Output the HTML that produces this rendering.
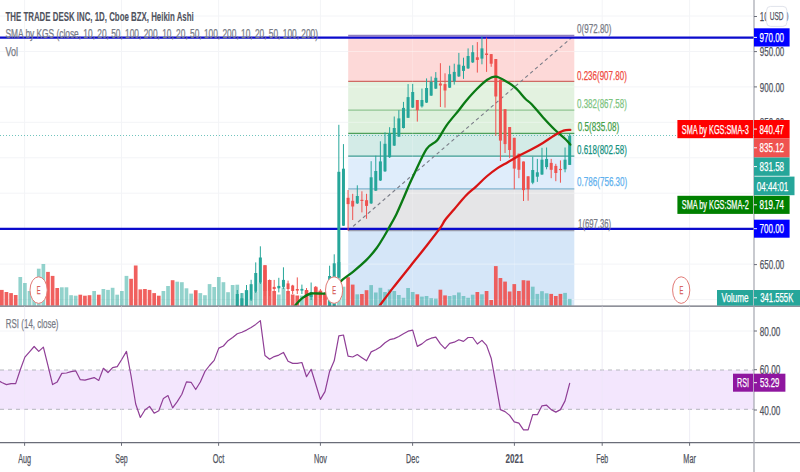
<!DOCTYPE html><html><head><meta charset="utf-8"><style>html,body{margin:0;padding:0;background:#fff;overflow:hidden}svg{display:block}text{font-family:"Liberation Sans",sans-serif}</style></head><body>
<svg width="800" height="472" viewBox="0 0 800 472">
<rect width="800" height="472" fill="#ffffff"/>
<line x1="24.6" y1="0" x2="24.6" y2="442" stroke="#f3f4f7" stroke-width="1"/>
<line x1="121.5" y1="0" x2="121.5" y2="442" stroke="#f3f4f7" stroke-width="1"/>
<line x1="218.6" y1="0" x2="218.6" y2="442" stroke="#f3f4f7" stroke-width="1"/>
<line x1="320.4" y1="0" x2="320.4" y2="442" stroke="#f3f4f7" stroke-width="1"/>
<line x1="412.6" y1="0" x2="412.6" y2="442" stroke="#f3f4f7" stroke-width="1"/>
<line x1="514.4" y1="0" x2="514.4" y2="442" stroke="#f3f4f7" stroke-width="1"/>
<line x1="602.2" y1="0" x2="602.2" y2="442" stroke="#f3f4f7" stroke-width="1"/>
<line x1="689.6" y1="0" x2="689.6" y2="442" stroke="#f3f4f7" stroke-width="1"/>
<line x1="0" y1="16.0" x2="754" y2="16.0" stroke="#f3f4f7" stroke-width="1"/>
<line x1="0" y1="51.5" x2="754" y2="51.5" stroke="#f3f4f7" stroke-width="1"/>
<line x1="0" y1="86.9" x2="754" y2="86.9" stroke="#f3f4f7" stroke-width="1"/>
<line x1="0" y1="122.3" x2="754" y2="122.3" stroke="#f3f4f7" stroke-width="1"/>
<line x1="0" y1="157.8" x2="754" y2="157.8" stroke="#f3f4f7" stroke-width="1"/>
<line x1="0" y1="193.2" x2="754" y2="193.2" stroke="#f3f4f7" stroke-width="1"/>
<line x1="0" y1="228.7" x2="754" y2="228.7" stroke="#f3f4f7" stroke-width="1"/>
<line x1="0" y1="264.1" x2="754" y2="264.1" stroke="#f3f4f7" stroke-width="1"/>
<line x1="0" y1="299.6" x2="754" y2="299.6" stroke="#f3f4f7" stroke-width="1"/>
<line x1="0" y1="331" x2="754" y2="331" stroke="#f3f4f7" stroke-width="1"/>
<rect x="348.2" y="35.3" width="226.09999999999997" height="46.10000000000001" fill="#fdd9d8"/>
<rect x="348.2" y="81.4" width="226.09999999999997" height="28.69999999999999" fill="#e3f2e0"/>
<rect x="348.2" y="110.1" width="226.09999999999997" height="23.200000000000017" fill="#ddf0dc"/>
<rect x="348.2" y="133.3" width="226.09999999999997" height="22.799999999999983" fill="#d3ebe7"/>
<rect x="348.2" y="156.1" width="226.09999999999997" height="32.80000000000001" fill="#dfedfb"/>
<rect x="348.2" y="188.9" width="226.09999999999997" height="41.69999999999999" fill="#e5e5e7"/>
<rect x="348.2" y="230.6" width="226.09999999999997" height="74.9" fill="#d5e6f8"/>
<line x1="348.2" y1="35.3" x2="574.3" y2="35.3" stroke="#8f7fc0" stroke-width="1.2"/>
<line x1="348.2" y1="81.4" x2="574.3" y2="81.4" stroke="#cf6a64" stroke-width="1.2"/>
<line x1="348.2" y1="110.1" x2="574.3" y2="110.1" stroke="#90c492" stroke-width="1.2"/>
<line x1="348.2" y1="133.3" x2="574.3" y2="133.3" stroke="#4f9f5a" stroke-width="1.2"/>
<line x1="348.2" y1="156.1" x2="574.3" y2="156.1" stroke="#3f9e94" stroke-width="1.2"/>
<line x1="348.2" y1="188.9" x2="574.3" y2="188.9" stroke="#80b4d0" stroke-width="1.2"/>
<line x1="348.2" y1="230.6" x2="574.3" y2="230.6" stroke="#9a9cab" stroke-width="1.2"/>
<line x1="348.2" y1="51.5" x2="574.3" y2="51.5" stroke="#ffffff" stroke-width="1" opacity="0.4"/>
<line x1="348.2" y1="86.9" x2="574.3" y2="86.9" stroke="#ffffff" stroke-width="1" opacity="0.4"/>
<line x1="348.2" y1="122.3" x2="574.3" y2="122.3" stroke="#ffffff" stroke-width="1" opacity="0.4"/>
<line x1="348.2" y1="157.8" x2="574.3" y2="157.8" stroke="#ffffff" stroke-width="1" opacity="0.4"/>
<line x1="348.2" y1="193.2" x2="574.3" y2="193.2" stroke="#ffffff" stroke-width="1" opacity="0.4"/>
<line x1="348.2" y1="264.1" x2="574.3" y2="264.1" stroke="#ffffff" stroke-width="1" opacity="0.4"/>
<line x1="348.2" y1="299.6" x2="574.3" y2="299.6" stroke="#ffffff" stroke-width="1" opacity="0.4"/>
<line x1="412.6" y1="35.3" x2="412.6" y2="305.5" stroke="#ffffff" stroke-width="1" opacity="0.2"/>
<line x1="514.4" y1="35.3" x2="514.4" y2="305.5" stroke="#ffffff" stroke-width="1" opacity="0.2"/>
<line x1="348.2" y1="230.6" x2="574.3" y2="35.3" stroke="#7a7d88" stroke-width="1.2" stroke-dasharray="3.5,3"/>
<rect x="-0.03" y="289.9" width="3.7" height="15.7" fill="rgba(239,83,80,0.92)"/>
<rect x="4.58" y="292.0" width="3.7" height="13.6" fill="rgba(239,83,80,0.92)"/>
<rect x="9.20" y="293.1" width="3.7" height="12.5" fill="rgba(239,83,80,0.92)"/>
<rect x="13.82" y="295.0" width="3.7" height="10.6" fill="rgba(239,83,80,0.92)"/>
<rect x="18.43" y="277.0" width="3.7" height="28.6" fill="rgba(38,166,154,0.5)"/>
<rect x="23.05" y="283.0" width="3.7" height="22.6" fill="rgba(38,166,154,0.5)"/>
<rect x="27.67" y="291.0" width="3.7" height="14.6" fill="rgba(38,166,154,0.5)"/>
<rect x="32.28" y="290.0" width="3.7" height="15.6" fill="rgba(38,166,154,0.5)"/>
<rect x="36.90" y="268.7" width="3.7" height="36.9" fill="rgba(38,166,154,0.5)"/>
<rect x="41.52" y="264.0" width="3.7" height="41.6" fill="rgba(38,166,154,0.5)"/>
<rect x="46.13" y="271.9" width="3.7" height="33.7" fill="rgba(239,83,80,0.92)"/>
<rect x="50.75" y="275.9" width="3.7" height="29.7" fill="rgba(239,83,80,0.92)"/>
<rect x="55.37" y="288.0" width="3.7" height="17.6" fill="rgba(239,83,80,0.92)"/>
<rect x="59.98" y="287.3" width="3.7" height="18.3" fill="rgba(38,166,154,0.5)"/>
<rect x="64.60" y="287.3" width="3.7" height="18.3" fill="rgba(38,166,154,0.5)"/>
<rect x="69.22" y="295.2" width="3.7" height="10.4" fill="rgba(38,166,154,0.5)"/>
<rect x="73.83" y="295.7" width="3.7" height="9.9" fill="rgba(38,166,154,0.5)"/>
<rect x="78.45" y="294.7" width="3.7" height="10.9" fill="rgba(239,83,80,0.92)"/>
<rect x="83.07" y="295.7" width="3.7" height="9.9" fill="rgba(239,83,80,0.92)"/>
<rect x="87.68" y="295.2" width="3.7" height="10.4" fill="rgba(239,83,80,0.92)"/>
<rect x="92.30" y="291.0" width="3.7" height="14.6" fill="rgba(38,166,154,0.5)"/>
<rect x="96.92" y="294.7" width="3.7" height="10.9" fill="rgba(239,83,80,0.92)"/>
<rect x="101.53" y="289.0" width="3.7" height="16.6" fill="rgba(38,166,154,0.5)"/>
<rect x="106.15" y="289.9" width="3.7" height="15.7" fill="rgba(38,166,154,0.5)"/>
<rect x="110.77" y="287.8" width="3.7" height="17.8" fill="rgba(38,166,154,0.5)"/>
<rect x="115.38" y="294.7" width="3.7" height="10.9" fill="rgba(38,166,154,0.5)"/>
<rect x="120.00" y="291.0" width="3.7" height="14.6" fill="rgba(38,166,154,0.5)"/>
<rect x="124.62" y="275.9" width="3.7" height="29.7" fill="rgba(38,166,154,0.5)"/>
<rect x="129.23" y="278.8" width="3.7" height="26.8" fill="rgba(239,83,80,0.92)"/>
<rect x="133.85" y="265.5" width="3.7" height="40.1" fill="rgba(239,83,80,0.92)"/>
<rect x="138.47" y="289.4" width="3.7" height="16.2" fill="rgba(239,83,80,0.92)"/>
<rect x="143.08" y="289.0" width="3.7" height="16.6" fill="rgba(239,83,80,0.92)"/>
<rect x="147.70" y="289.9" width="3.7" height="15.7" fill="rgba(239,83,80,0.92)"/>
<rect x="152.32" y="293.1" width="3.7" height="12.5" fill="rgba(239,83,80,0.92)"/>
<rect x="156.93" y="295.7" width="3.7" height="9.9" fill="rgba(239,83,80,0.92)"/>
<rect x="161.55" y="291.0" width="3.7" height="14.6" fill="rgba(38,166,154,0.5)"/>
<rect x="166.17" y="286.0" width="3.7" height="19.6" fill="rgba(38,166,154,0.5)"/>
<rect x="170.78" y="280.2" width="3.7" height="25.4" fill="rgba(239,83,80,0.92)"/>
<rect x="175.40" y="281.7" width="3.7" height="23.9" fill="rgba(38,166,154,0.5)"/>
<rect x="180.02" y="282.2" width="3.7" height="23.4" fill="rgba(38,166,154,0.5)"/>
<rect x="184.63" y="288.3" width="3.7" height="17.3" fill="rgba(38,166,154,0.5)"/>
<rect x="189.25" y="293.6" width="3.7" height="12.0" fill="rgba(38,166,154,0.5)"/>
<rect x="193.87" y="290.2" width="3.7" height="15.4" fill="rgba(239,83,80,0.92)"/>
<rect x="198.48" y="293.1" width="3.7" height="12.5" fill="rgba(38,166,154,0.5)"/>
<rect x="203.10" y="295.2" width="3.7" height="10.4" fill="rgba(38,166,154,0.5)"/>
<rect x="207.72" y="284.1" width="3.7" height="21.5" fill="rgba(38,166,154,0.5)"/>
<rect x="212.33" y="287.0" width="3.7" height="18.6" fill="rgba(38,166,154,0.5)"/>
<rect x="216.95" y="277.0" width="3.7" height="28.6" fill="rgba(38,166,154,0.5)"/>
<rect x="221.57" y="282.2" width="3.7" height="23.4" fill="rgba(38,166,154,0.5)"/>
<rect x="226.18" y="292.2" width="3.7" height="13.4" fill="rgba(38,166,154,0.5)"/>
<rect x="230.80" y="285.0" width="3.7" height="20.6" fill="rgba(38,166,154,0.5)"/>
<rect x="235.42" y="284.7" width="3.7" height="20.9" fill="rgba(38,166,154,0.5)"/>
<rect x="240.03" y="293.1" width="3.7" height="12.5" fill="rgba(38,166,154,0.5)"/>
<rect x="244.65" y="290.2" width="3.7" height="15.4" fill="rgba(38,166,154,0.5)"/>
<rect x="249.27" y="299.8" width="3.7" height="5.8" fill="rgba(38,166,154,0.5)"/>
<rect x="253.88" y="292.0" width="3.7" height="13.6" fill="rgba(38,166,154,0.5)"/>
<rect x="258.50" y="282.7" width="3.7" height="22.9" fill="rgba(38,166,154,0.5)"/>
<rect x="263.12" y="265.2" width="3.7" height="40.4" fill="rgba(239,83,80,0.92)"/>
<rect x="267.74" y="280.0" width="3.7" height="25.6" fill="rgba(239,83,80,0.92)"/>
<rect x="272.35" y="291.0" width="3.7" height="14.6" fill="rgba(239,83,80,0.92)"/>
<rect x="276.97" y="294.5" width="3.7" height="11.1" fill="rgba(38,166,154,0.5)"/>
<rect x="281.59" y="287.5" width="3.7" height="18.1" fill="rgba(38,166,154,0.5)"/>
<rect x="286.20" y="291.0" width="3.7" height="14.6" fill="rgba(239,83,80,0.92)"/>
<rect x="290.82" y="294.5" width="3.7" height="11.1" fill="rgba(239,83,80,0.92)"/>
<rect x="295.44" y="295.5" width="3.7" height="10.1" fill="rgba(239,83,80,0.92)"/>
<rect x="300.05" y="295.6" width="3.7" height="10.0" fill="rgba(38,166,154,0.5)"/>
<rect x="304.67" y="290.2" width="3.7" height="15.4" fill="rgba(239,83,80,0.92)"/>
<rect x="309.29" y="295.0" width="3.7" height="10.6" fill="rgba(38,166,154,0.5)"/>
<rect x="313.90" y="286.8" width="3.7" height="18.8" fill="rgba(239,83,80,0.92)"/>
<rect x="318.52" y="290.6" width="3.7" height="15.0" fill="rgba(239,83,80,0.92)"/>
<rect x="323.14" y="294.1" width="3.7" height="11.5" fill="rgba(239,83,80,0.92)"/>
<rect x="327.75" y="288.0" width="3.7" height="17.6" fill="rgba(38,166,154,0.5)"/>
<rect x="332.37" y="284.0" width="3.7" height="21.6" fill="rgba(38,166,154,0.5)"/>
<rect x="336.99" y="262.0" width="3.7" height="43.6" fill="rgba(38,166,154,0.5)"/>
<rect x="341.60" y="286.7" width="3.7" height="18.9" fill="rgba(38,166,154,0.5)"/>
<rect x="346.22" y="277.2" width="3.7" height="28.4" fill="rgba(239,83,80,0.92)"/>
<rect x="350.84" y="284.6" width="3.7" height="21.0" fill="rgba(239,83,80,0.92)"/>
<rect x="355.45" y="294.3" width="3.7" height="11.3" fill="rgba(38,166,154,0.5)"/>
<rect x="360.07" y="294.0" width="3.7" height="11.6" fill="rgba(239,83,80,0.92)"/>
<rect x="364.69" y="290.2" width="3.7" height="15.4" fill="rgba(239,83,80,0.92)"/>
<rect x="369.30" y="285.1" width="3.7" height="20.5" fill="rgba(38,166,154,0.5)"/>
<rect x="373.92" y="292.5" width="3.7" height="13.1" fill="rgba(38,166,154,0.5)"/>
<rect x="378.54" y="287.8" width="3.7" height="17.8" fill="rgba(38,166,154,0.5)"/>
<rect x="383.15" y="292.0" width="3.7" height="13.6" fill="rgba(38,166,154,0.5)"/>
<rect x="387.77" y="289.4" width="3.7" height="16.2" fill="rgba(38,166,154,0.5)"/>
<rect x="392.39" y="291.0" width="3.7" height="14.6" fill="rgba(38,166,154,0.5)"/>
<rect x="397.00" y="295.0" width="3.7" height="10.6" fill="rgba(38,166,154,0.5)"/>
<rect x="401.62" y="297.8" width="3.7" height="7.8" fill="rgba(38,166,154,0.5)"/>
<rect x="406.24" y="288.0" width="3.7" height="17.6" fill="rgba(38,166,154,0.5)"/>
<rect x="410.85" y="292.0" width="3.7" height="13.6" fill="rgba(38,166,154,0.5)"/>
<rect x="415.47" y="294.3" width="3.7" height="11.3" fill="rgba(239,83,80,0.92)"/>
<rect x="420.09" y="296.6" width="3.7" height="9.0" fill="rgba(38,166,154,0.5)"/>
<rect x="424.70" y="296.0" width="3.7" height="9.6" fill="rgba(38,166,154,0.5)"/>
<rect x="429.32" y="298.2" width="3.7" height="7.4" fill="rgba(38,166,154,0.5)"/>
<rect x="433.94" y="298.6" width="3.7" height="7.0" fill="rgba(38,166,154,0.5)"/>
<rect x="438.55" y="289.7" width="3.7" height="15.9" fill="rgba(239,83,80,0.92)"/>
<rect x="443.17" y="295.4" width="3.7" height="10.2" fill="rgba(239,83,80,0.92)"/>
<rect x="447.79" y="296.0" width="3.7" height="9.6" fill="rgba(38,166,154,0.5)"/>
<rect x="452.40" y="295.2" width="3.7" height="10.4" fill="rgba(38,166,154,0.5)"/>
<rect x="457.02" y="292.5" width="3.7" height="13.1" fill="rgba(38,166,154,0.5)"/>
<rect x="461.64" y="296.0" width="3.7" height="9.6" fill="rgba(38,166,154,0.5)"/>
<rect x="466.25" y="297.8" width="3.7" height="7.8" fill="rgba(38,166,154,0.5)"/>
<rect x="470.87" y="294.7" width="3.7" height="10.9" fill="rgba(38,166,154,0.5)"/>
<rect x="475.49" y="292.0" width="3.7" height="13.6" fill="rgba(239,83,80,0.92)"/>
<rect x="480.10" y="294.3" width="3.7" height="11.3" fill="rgba(38,166,154,0.5)"/>
<rect x="484.72" y="291.0" width="3.7" height="14.6" fill="rgba(239,83,80,0.92)"/>
<rect x="489.34" y="300.0" width="3.7" height="5.6" fill="rgba(239,83,80,0.92)"/>
<rect x="493.95" y="266.1" width="3.7" height="39.5" fill="rgba(239,83,80,0.92)"/>
<rect x="498.57" y="278.0" width="3.7" height="27.6" fill="rgba(239,83,80,0.92)"/>
<rect x="503.19" y="281.6" width="3.7" height="24.0" fill="rgba(239,83,80,0.92)"/>
<rect x="507.80" y="291.5" width="3.7" height="14.1" fill="rgba(239,83,80,0.92)"/>
<rect x="512.42" y="284.1" width="3.7" height="21.5" fill="rgba(239,83,80,0.92)"/>
<rect x="517.04" y="291.0" width="3.7" height="14.6" fill="rgba(239,83,80,0.92)"/>
<rect x="521.65" y="280.2" width="3.7" height="25.4" fill="rgba(239,83,80,0.92)"/>
<rect x="526.27" y="280.6" width="3.7" height="25.0" fill="rgba(239,83,80,0.92)"/>
<rect x="530.89" y="286.7" width="3.7" height="18.9" fill="rgba(38,166,154,0.5)"/>
<rect x="535.50" y="293.9" width="3.7" height="11.7" fill="rgba(38,166,154,0.5)"/>
<rect x="540.12" y="291.2" width="3.7" height="14.4" fill="rgba(38,166,154,0.5)"/>
<rect x="544.74" y="293.3" width="3.7" height="12.3" fill="rgba(38,166,154,0.5)"/>
<rect x="549.35" y="293.9" width="3.7" height="11.7" fill="rgba(239,83,80,0.92)"/>
<rect x="553.97" y="296.0" width="3.7" height="9.6" fill="rgba(239,83,80,0.92)"/>
<rect x="558.59" y="293.9" width="3.7" height="11.7" fill="rgba(239,83,80,0.92)"/>
<rect x="563.20" y="292.9" width="3.7" height="12.7" fill="rgba(38,166,154,0.5)"/>
<rect x="567.82" y="298.9" width="3.7" height="6.7" fill="rgba(38,166,154,0.5)"/>
<line x1="0" y1="135.5" x2="754" y2="135.5" stroke="#26a69a" stroke-width="1" stroke-dasharray="1,2" opacity="0.65"/>
<line x1="0" y1="37.6" x2="754" y2="37.6" stroke="#0b0bcc" stroke-width="2.2"/>
<line x1="0" y1="228.8" x2="754" y2="228.8" stroke="#0b0bcc" stroke-width="2.2"/>
<line x1="237.27" y1="290.0" x2="237.27" y2="306.0" stroke="#26a69a" stroke-width="1"/>
<rect x="235.77" y="294.0" width="3" height="12.0" fill="#26a69a"/>
<line x1="241.88" y1="293.0" x2="241.88" y2="306.0" stroke="#26a69a" stroke-width="1"/>
<rect x="240.38" y="298.3" width="3" height="7.7" fill="#26a69a"/>
<line x1="246.50" y1="285.0" x2="246.50" y2="306.0" stroke="#26a69a" stroke-width="1"/>
<rect x="245.00" y="290.2" width="3" height="15.8" fill="#26a69a"/>
<line x1="251.12" y1="279.8" x2="251.12" y2="301.0" stroke="#26a69a" stroke-width="1"/>
<rect x="249.62" y="284.2" width="3" height="15.6" fill="#26a69a"/>
<line x1="255.73" y1="262.4" x2="255.73" y2="293.0" stroke="#26a69a" stroke-width="1"/>
<rect x="254.23" y="273.0" width="3" height="18.8" fill="#26a69a"/>
<line x1="260.35" y1="246.3" x2="260.35" y2="284.0" stroke="#26a69a" stroke-width="1"/>
<rect x="258.85" y="257.5" width="3" height="25.2" fill="#26a69a"/>
<line x1="264.97" y1="265.0" x2="264.97" y2="296.0" stroke="#ef5350" stroke-width="1"/>
<rect x="263.47" y="270.0" width="3" height="21.0" fill="#ef5350"/>
<line x1="269.59" y1="279.5" x2="269.59" y2="296.0" stroke="#ef5350" stroke-width="1"/>
<rect x="268.09" y="280.0" width="3" height="11.0" fill="#ef5350"/>
<line x1="274.20" y1="279.9" x2="274.20" y2="293.0" stroke="#ef5350" stroke-width="1"/>
<rect x="272.70" y="286.9" width="3" height="2.1" fill="#ef5350"/>
<line x1="278.82" y1="277.8" x2="278.82" y2="292.4" stroke="#26a69a" stroke-width="1"/>
<rect x="277.32" y="285.9" width="3" height="2.4" fill="#26a69a"/>
<line x1="283.44" y1="267.3" x2="283.44" y2="289.0" stroke="#26a69a" stroke-width="1"/>
<rect x="281.94" y="279.9" width="3" height="7.0" fill="#26a69a"/>
<line x1="288.05" y1="280.6" x2="288.05" y2="294.0" stroke="#ef5350" stroke-width="1"/>
<rect x="286.55" y="283.4" width="3" height="5.6" fill="#ef5350"/>
<line x1="292.67" y1="284.8" x2="292.67" y2="294.0" stroke="#ef5350" stroke-width="1"/>
<rect x="291.17" y="285.5" width="3" height="5.5" fill="#ef5350"/>
<line x1="297.29" y1="277.4" x2="297.29" y2="294.0" stroke="#ef5350" stroke-width="1"/>
<rect x="295.79" y="289.0" width="3" height="1.6" fill="#ef5350"/>
<line x1="301.90" y1="284.6" x2="301.90" y2="294.0" stroke="#26a69a" stroke-width="1"/>
<rect x="300.40" y="288.9" width="3" height="1.7" fill="#26a69a"/>
<line x1="306.52" y1="288.0" x2="306.52" y2="300.0" stroke="#ef5350" stroke-width="1"/>
<rect x="305.02" y="290.0" width="3" height="6.0" fill="#ef5350"/>
<line x1="311.14" y1="282.5" x2="311.14" y2="300.0" stroke="#26a69a" stroke-width="1"/>
<rect x="309.64" y="292.0" width="3" height="5.0" fill="#26a69a"/>
<line x1="315.75" y1="286.0" x2="315.75" y2="300.0" stroke="#ef5350" stroke-width="1"/>
<rect x="314.25" y="288.0" width="3" height="7.0" fill="#ef5350"/>
<line x1="320.37" y1="289.0" x2="320.37" y2="302.0" stroke="#ef5350" stroke-width="1"/>
<rect x="318.87" y="291.0" width="3" height="7.0" fill="#ef5350"/>
<line x1="324.99" y1="292.0" x2="324.99" y2="304.0" stroke="#ef5350" stroke-width="1"/>
<rect x="323.49" y="294.0" width="3" height="6.0" fill="#ef5350"/>
<line x1="329.60" y1="265.7" x2="329.60" y2="306.0" stroke="#26a69a" stroke-width="1"/>
<rect x="328.10" y="276.0" width="3" height="30.0" fill="#26a69a"/>
<line x1="334.22" y1="254.3" x2="334.22" y2="306.0" stroke="#26a69a" stroke-width="1"/>
<rect x="332.72" y="263.3" width="3" height="42.7" fill="#26a69a"/>
<line x1="338.84" y1="124.8" x2="338.84" y2="278.0" stroke="#26a69a" stroke-width="1"/>
<rect x="337.34" y="171.8" width="3" height="105.8" fill="#26a69a"/>
<line x1="343.45" y1="144.1" x2="343.45" y2="226.0" stroke="#26a69a" stroke-width="1"/>
<rect x="341.95" y="168.7" width="3" height="57.0" fill="#26a69a"/>
<line x1="348.07" y1="190.0" x2="348.07" y2="230.6" stroke="#ef5350" stroke-width="1"/>
<rect x="346.57" y="197.8" width="3" height="6.3" fill="#ef5350"/>
<line x1="352.69" y1="193.8" x2="352.69" y2="220.0" stroke="#ef5350" stroke-width="1"/>
<rect x="351.19" y="200.8" width="3" height="5.7" fill="#ef5350"/>
<line x1="357.30" y1="185.3" x2="357.30" y2="204.0" stroke="#26a69a" stroke-width="1"/>
<rect x="355.80" y="196.0" width="3" height="7.4" fill="#26a69a"/>
<line x1="361.92" y1="191.3" x2="361.92" y2="212.4" stroke="#ef5350" stroke-width="1"/>
<rect x="360.42" y="199.8" width="3" height="1.2" fill="#ef5350"/>
<line x1="366.54" y1="193.8" x2="366.54" y2="218.8" stroke="#ef5350" stroke-width="1"/>
<rect x="365.04" y="200.2" width="3" height="5.7" fill="#ef5350"/>
<line x1="371.15" y1="161.2" x2="371.15" y2="204.0" stroke="#26a69a" stroke-width="1"/>
<rect x="369.65" y="177.3" width="3" height="26.1" fill="#26a69a"/>
<line x1="375.77" y1="155.7" x2="375.77" y2="191.0" stroke="#26a69a" stroke-width="1"/>
<rect x="374.27" y="171.0" width="3" height="19.7" fill="#26a69a"/>
<line x1="380.39" y1="141.3" x2="380.39" y2="181.0" stroke="#26a69a" stroke-width="1"/>
<rect x="378.89" y="161.4" width="3" height="19.1" fill="#26a69a"/>
<line x1="385.00" y1="132.3" x2="385.00" y2="172.0" stroke="#26a69a" stroke-width="1"/>
<rect x="383.50" y="143.8" width="3" height="27.5" fill="#26a69a"/>
<line x1="389.62" y1="127.2" x2="389.62" y2="158.0" stroke="#26a69a" stroke-width="1"/>
<rect x="388.12" y="133.3" width="3" height="23.9" fill="#26a69a"/>
<line x1="394.24" y1="116.5" x2="394.24" y2="146.0" stroke="#26a69a" stroke-width="1"/>
<rect x="392.74" y="128.0" width="3" height="17.6" fill="#26a69a"/>
<line x1="398.85" y1="110.2" x2="398.85" y2="137.0" stroke="#26a69a" stroke-width="1"/>
<rect x="397.35" y="118.4" width="3" height="18.2" fill="#26a69a"/>
<line x1="403.47" y1="101.9" x2="403.47" y2="128.5" stroke="#26a69a" stroke-width="1"/>
<rect x="401.97" y="107.9" width="3" height="20.1" fill="#26a69a"/>
<line x1="408.09" y1="84.1" x2="408.09" y2="118.0" stroke="#26a69a" stroke-width="1"/>
<rect x="406.59" y="97.1" width="3" height="20.7" fill="#26a69a"/>
<line x1="412.70" y1="83.9" x2="412.70" y2="108.0" stroke="#26a69a" stroke-width="1"/>
<rect x="411.20" y="92.0" width="3" height="15.6" fill="#26a69a"/>
<line x1="417.32" y1="100.0" x2="417.32" y2="121.6" stroke="#ef5350" stroke-width="1"/>
<rect x="415.82" y="100.0" width="3" height="10.2" fill="#ef5350"/>
<line x1="421.94" y1="88.6" x2="421.94" y2="107.6" stroke="#26a69a" stroke-width="1"/>
<rect x="420.44" y="100.0" width="3" height="6.4" fill="#26a69a"/>
<line x1="426.55" y1="78.4" x2="426.55" y2="103.0" stroke="#26a69a" stroke-width="1"/>
<rect x="425.05" y="88.0" width="3" height="14.6" fill="#26a69a"/>
<line x1="431.17" y1="76.5" x2="431.17" y2="96.0" stroke="#26a69a" stroke-width="1"/>
<rect x="429.67" y="81.9" width="3" height="13.7" fill="#26a69a"/>
<line x1="435.79" y1="72.1" x2="435.79" y2="89.0" stroke="#26a69a" stroke-width="1"/>
<rect x="434.29" y="77.8" width="3" height="10.8" fill="#26a69a"/>
<line x1="440.40" y1="63.2" x2="440.40" y2="107.0" stroke="#ef5350" stroke-width="1"/>
<rect x="438.90" y="83.5" width="3" height="2.0" fill="#ef5350"/>
<line x1="445.02" y1="73.3" x2="445.02" y2="107.6" stroke="#ef5350" stroke-width="1"/>
<rect x="443.52" y="84.1" width="3" height="6.4" fill="#ef5350"/>
<line x1="449.64" y1="65.7" x2="449.64" y2="88.0" stroke="#26a69a" stroke-width="1"/>
<rect x="448.14" y="74.2" width="3" height="13.5" fill="#26a69a"/>
<line x1="454.25" y1="63.7" x2="454.25" y2="84.6" stroke="#26a69a" stroke-width="1"/>
<rect x="452.75" y="71.9" width="3" height="9.6" fill="#26a69a"/>
<line x1="458.87" y1="52.9" x2="458.87" y2="77.0" stroke="#26a69a" stroke-width="1"/>
<rect x="457.37" y="64.6" width="3" height="11.8" fill="#26a69a"/>
<line x1="463.49" y1="57.7" x2="463.49" y2="78.9" stroke="#26a69a" stroke-width="1"/>
<rect x="461.99" y="65.8" width="3" height="5.1" fill="#26a69a"/>
<line x1="468.10" y1="48.4" x2="468.10" y2="69.0" stroke="#26a69a" stroke-width="1"/>
<rect x="466.60" y="56.0" width="3" height="12.4" fill="#26a69a"/>
<line x1="472.72" y1="45.2" x2="472.72" y2="63.0" stroke="#26a69a" stroke-width="1"/>
<rect x="471.22" y="52.2" width="3" height="10.2" fill="#26a69a"/>
<line x1="477.34" y1="42.1" x2="477.34" y2="72.6" stroke="#ef5350" stroke-width="1"/>
<rect x="475.84" y="57.3" width="3" height="2.6" fill="#ef5350"/>
<line x1="481.95" y1="36.4" x2="481.95" y2="64.3" stroke="#26a69a" stroke-width="1"/>
<rect x="480.45" y="48.4" width="3" height="10.2" fill="#26a69a"/>
<line x1="486.57" y1="37.6" x2="486.57" y2="71.9" stroke="#ef5350" stroke-width="1"/>
<rect x="485.07" y="53.5" width="3" height="1.5" fill="#ef5350"/>
<line x1="491.19" y1="54.0" x2="491.19" y2="66.8" stroke="#ef5350" stroke-width="1"/>
<rect x="489.69" y="54.1" width="3" height="9.6" fill="#ef5350"/>
<line x1="495.80" y1="59.0" x2="495.80" y2="135.8" stroke="#ef5350" stroke-width="1"/>
<rect x="494.30" y="59.0" width="3" height="37.5" fill="#ef5350"/>
<line x1="500.42" y1="79.6" x2="500.42" y2="161.0" stroke="#ef5350" stroke-width="1"/>
<rect x="498.92" y="79.6" width="3" height="61.0" fill="#ef5350"/>
<line x1="505.04" y1="109.2" x2="505.04" y2="153.0" stroke="#ef5350" stroke-width="1"/>
<rect x="503.54" y="109.2" width="3" height="34.9" fill="#ef5350"/>
<line x1="509.65" y1="127.0" x2="509.65" y2="158.2" stroke="#ef5350" stroke-width="1"/>
<rect x="508.15" y="127.0" width="3" height="23.0" fill="#ef5350"/>
<line x1="514.27" y1="137.8" x2="514.27" y2="189.3" stroke="#ef5350" stroke-width="1"/>
<rect x="512.77" y="137.8" width="3" height="30.8" fill="#ef5350"/>
<line x1="518.89" y1="153.7" x2="518.89" y2="178.2" stroke="#ef5350" stroke-width="1"/>
<rect x="517.39" y="153.7" width="3" height="16.1" fill="#ef5350"/>
<line x1="523.50" y1="161.5" x2="523.50" y2="201.0" stroke="#ef5350" stroke-width="1"/>
<rect x="522.00" y="161.5" width="3" height="28.6" fill="#ef5350"/>
<line x1="528.12" y1="176.3" x2="528.12" y2="200.7" stroke="#ef5350" stroke-width="1"/>
<rect x="526.62" y="176.3" width="3" height="13.0" fill="#ef5350"/>
<line x1="532.74" y1="156.7" x2="532.74" y2="184.2" stroke="#26a69a" stroke-width="1"/>
<rect x="531.24" y="170.0" width="3" height="12.7" fill="#26a69a"/>
<line x1="537.35" y1="158.9" x2="537.35" y2="181.9" stroke="#26a69a" stroke-width="1"/>
<rect x="535.85" y="172.3" width="3" height="4.4" fill="#26a69a"/>
<line x1="541.97" y1="147.8" x2="541.97" y2="175.0" stroke="#26a69a" stroke-width="1"/>
<rect x="540.47" y="159.7" width="3" height="14.8" fill="#26a69a"/>
<line x1="546.59" y1="147.5" x2="546.59" y2="169.3" stroke="#26a69a" stroke-width="1"/>
<rect x="545.09" y="158.9" width="3" height="8.2" fill="#26a69a"/>
<line x1="551.20" y1="158.9" x2="551.20" y2="178.2" stroke="#ef5350" stroke-width="1"/>
<rect x="549.70" y="162.9" width="3" height="6.9" fill="#ef5350"/>
<line x1="555.82" y1="163.8" x2="555.82" y2="181.2" stroke="#ef5350" stroke-width="1"/>
<rect x="554.32" y="165.9" width="3" height="7.1" fill="#ef5350"/>
<line x1="560.44" y1="160.4" x2="560.44" y2="182.7" stroke="#ef5350" stroke-width="1"/>
<rect x="558.94" y="168.9" width="3" height="1.2" fill="#ef5350"/>
<line x1="565.05" y1="147.5" x2="565.05" y2="172.3" stroke="#26a69a" stroke-width="1"/>
<rect x="563.55" y="159.7" width="3" height="9.6" fill="#26a69a"/>
<line x1="569.67" y1="133.3" x2="569.67" y2="165.0" stroke="#26a69a" stroke-width="1"/>
<rect x="568.17" y="135.8" width="3" height="29.1" fill="#26a69a"/>
<clipPath id="mainclip"><rect x="0" y="0" width="754" height="305.6"/></clipPath>
<g clip-path="url(#mainclip)">
<path d="M291,310 C291.63,309.33 292.97,307.93 294.8,306 C296.63,304.07 299.30,300.48 302,298.4 C304.70,296.32 307.00,294.32 311,293.5 C315.00,292.68 322.17,294.25 326,293.5 C329.83,292.75 331.33,291.22 334,289 C336.67,286.78 338.83,283.07 342,280.2 C345.17,277.33 348.92,275.18 353,271.8 C357.08,268.42 362.55,263.87 366.5,259.9 C370.45,255.93 373.73,251.98 376.7,248 C379.67,244.02 382.30,239.30 384.3,236 C386.30,232.70 386.68,231.83 388.7,228.2 C390.72,224.57 393.85,219.40 396.4,214.2 C398.95,209.00 401.78,202.10 404,197 C406.22,191.90 408.00,187.43 409.7,183.6 C411.40,179.77 411.40,179.75 414.2,174 C417.00,168.25 422.70,154.68 426.5,149.1 C430.30,143.52 433.65,144.47 437,140.5 C440.35,136.53 442.93,130.38 446.6,125.3 C450.27,120.22 455.77,114.05 459,110 C462.23,105.95 463.07,104.45 466,101 C468.93,97.55 473.07,92.83 476.6,89.3 C480.13,85.77 484.02,81.92 487.2,79.8 C490.38,77.68 492.52,76.33 495.7,76.6 C498.88,76.87 502.95,79.47 506.3,81.4 C509.65,83.33 512.63,85.30 515.8,88.2 C518.97,91.10 522.70,96.17 525.3,98.8 C527.90,101.43 528.47,100.93 531.4,104 C534.33,107.07 539.08,113.00 542.9,117.2 C546.72,121.40 550.48,125.48 554.3,129.2 C558.12,132.92 563.13,136.93 565.8,139.5 C568.47,142.07 569.55,143.75 570.3,144.6" fill="none" stroke="#0a7a14" stroke-width="2.3" stroke-linejoin="round" stroke-linecap="round"/>
<path d="M376,310.5 C376.57,309.75 376.57,309.77 379.4,306 C382.23,302.23 387.92,294.45 393,287.9 C398.08,281.35 404.27,273.77 409.9,266.7 C415.53,259.63 421.72,252.00 426.8,245.5 C431.88,239.00 437.35,231.95 440.4,227.7 C443.45,223.45 442.83,223.03 445.1,220 C447.37,216.97 450.52,213.58 454,209.5 C457.48,205.42 462.33,199.32 466,195.5 C469.67,191.68 472.57,189.77 476,186.6 C479.43,183.43 483.07,179.53 486.6,176.5 C490.13,173.47 493.67,170.78 497.2,168.4 C500.73,166.02 504.27,164.28 507.8,162.2 C511.33,160.12 514.65,157.93 518.4,155.9 C522.15,153.87 526.22,152.17 530.3,150 C534.38,147.83 538.90,145.32 542.9,142.9 C546.90,140.48 550.87,137.55 554.3,135.5 C557.73,133.45 560.83,131.55 563.5,130.6 C566.17,129.65 569.17,129.93 570.3,129.8" fill="none" stroke="#d81414" stroke-width="2.3" stroke-linejoin="round" stroke-linecap="round"/>
</g>
<ellipse cx="38.6" cy="290.1" rx="8.6" ry="13.3" fill="#ffffff" stroke="#e27a76" stroke-width="1"/>
<text x="36.800000000000004" y="293.8" font-size="11.5" fill="#d65a56" stroke="#d65a56" stroke-width="0.25" text-anchor="start" textLength="3.8" lengthAdjust="spacingAndGlyphs">E</text>
<ellipse cx="334.1" cy="290.1" rx="8.6" ry="13.3" fill="#ffffff" stroke="#e27a76" stroke-width="1"/>
<text x="332.3" y="293.8" font-size="11.5" fill="#d65a56" stroke="#d65a56" stroke-width="0.25" text-anchor="start" textLength="3.8" lengthAdjust="spacingAndGlyphs">E</text>
<ellipse cx="681.2" cy="290.1" rx="8.6" ry="13.3" fill="#ffffff" stroke="#e27a76" stroke-width="1"/>
<text x="679.4000000000001" y="293.8" font-size="11.5" fill="#d65a56" stroke="#d65a56" stroke-width="0.25" text-anchor="start" textLength="3.8" lengthAdjust="spacingAndGlyphs">E</text>
<text x="577.1" y="33.0" font-size="12" fill="#787b86" stroke="#787b86" stroke-width="0.25" text-anchor="start" textLength="34.4" lengthAdjust="spacingAndGlyphs">0(972.80)</text>
<text x="577" y="79.8" font-size="12" fill="#f04a3e" stroke="#f04a3e" stroke-width="0.25" text-anchor="start" textLength="49.8" lengthAdjust="spacingAndGlyphs">0.236(907.80)</text>
<text x="577" y="107.9" font-size="12" fill="#7cc47f" stroke="#7cc47f" stroke-width="0.25" text-anchor="start" textLength="49.8" lengthAdjust="spacingAndGlyphs">0.382(867.58)</text>
<text x="577.8" y="131.0" font-size="12" fill="#43a047" stroke="#43a047" stroke-width="0.25" text-anchor="start" textLength="41.4" lengthAdjust="spacingAndGlyphs">0.5(835.08)</text>
<text x="577" y="153.7" font-size="12" fill="#15927f" stroke="#15927f" stroke-width="0.25" text-anchor="start" textLength="49.8" lengthAdjust="spacingAndGlyphs">0.618(802.58)</text>
<text x="577" y="186.4" font-size="12" fill="#5fb1ee" stroke="#5fb1ee" stroke-width="0.25" text-anchor="start" textLength="50.3" lengthAdjust="spacingAndGlyphs">0.786(756.30)</text>
<text x="578.1" y="228" font-size="12" fill="#787b86" stroke="#787b86" stroke-width="0.25" text-anchor="start" textLength="33.1" lengthAdjust="spacingAndGlyphs">1(697.36)</text>
<text x="5.5" y="21.3" font-size="12" fill="#50535e" stroke="#50535e" stroke-width="0.1" text-anchor="start" font-weight="bold" textLength="188.2" lengthAdjust="spacingAndGlyphs">THE TRADE DESK INC, 1D, Cboe BZX, Heikin Ashi</text>
<text x="5.5" y="38" font-size="12" fill="#787b86" stroke="#787b86" stroke-width="0.25" text-anchor="start" textLength="312.5" lengthAdjust="spacingAndGlyphs">SMA by KGS (close, 10, 20, 50, 100, 200, 10, 20, 50, 100, 200, 10, 20, 50, 100, 200)</text>
<text x="5.5" y="55.5" font-size="12" fill="#787b86" stroke="#787b86" stroke-width="0.25" text-anchor="start" textLength="12.5" lengthAdjust="spacingAndGlyphs">Vol</text>
<text x="5.8" y="327.8" font-size="12" fill="#787b86" stroke="#787b86" stroke-width="0.25" text-anchor="start" textLength="52.7" lengthAdjust="spacingAndGlyphs">RSI (14, close)</text>
<rect x="754" y="0" width="46" height="472" fill="#ffffff"/>
<line x1="0" y1="306.1" x2="800" y2="306.1" stroke="#6a6d78" stroke-width="1.2"/>
<rect x="0" y="370" width="754" height="39.5" fill="#f3e6fd"/>
<line x1="0" y1="370" x2="754" y2="370" stroke="#b4b6bd" stroke-width="1" stroke-dasharray="4,4"/>
<line x1="0" y1="409.3" x2="754" y2="409.3" stroke="#b4b6bd" stroke-width="1" stroke-dasharray="4,4"/>
<line x1="24.6" y1="306" x2="24.6" y2="442" stroke="#ece6f6" stroke-width="1" opacity="0.4"/>
<line x1="121.5" y1="306" x2="121.5" y2="442" stroke="#ece6f6" stroke-width="1" opacity="0.4"/>
<line x1="218.6" y1="306" x2="218.6" y2="442" stroke="#ece6f6" stroke-width="1" opacity="0.4"/>
<line x1="320.4" y1="306" x2="320.4" y2="442" stroke="#ece6f6" stroke-width="1" opacity="0.4"/>
<line x1="412.6" y1="306" x2="412.6" y2="442" stroke="#ece6f6" stroke-width="1" opacity="0.4"/>
<line x1="514.4" y1="306" x2="514.4" y2="442" stroke="#ece6f6" stroke-width="1" opacity="0.4"/>
<line x1="602.2" y1="306" x2="602.2" y2="442" stroke="#ece6f6" stroke-width="1" opacity="0.4"/>
<line x1="689.6" y1="306" x2="689.6" y2="442" stroke="#ece6f6" stroke-width="1" opacity="0.4"/>
<clipPath id="rsiclip"><rect x="0" y="307" width="754" height="135"/></clipPath>
<g clip-path="url(#rsiclip)"><polyline points="-2.8,380.0 1.82,382.5 6.43,384.6 11.05,383.6 15.67,383.6 20.28,369.8 24.9,357.1 29.52,351.8 34.13,346.5 38.75,351.4 43.37,347.1 47.98,365.6 52.6,384.6 57.22,381.9 61.83,373.4 66.45,373.0 71.07,371.7 75.68,370.8 80.3,379.7 84.92,380.2 89.53,378.9 94.15,377.6 98.77,380.4 103.38,368.3 108.0,372.5 112.62,367.7 117.23,366.6 121.85,359.2 126.47,351.4 131.08,376.0 135.7,404.0 140.32,417.5 144.93,410.0 149.55,406.4 154.17,413.2 158.78,410.7 163.4,398.4 168.02,395.6 172.63,407.9 177.25,401.6 181.87,394.2 186.48,381.9 191.1,382.3 195.72,389.5 200.33,382.0 204.95,371.4 209.57,365.5 214.18,360.4 218.8,348.1 223.42,346.0 228.03,340.7 232.65,337.5 237.27,333.7 241.88,332.2 246.5,330.1 251.12,327.4 255.73,324.4 260.35,320.6 264.97,355.5 269.59,359.2 274.2,356.6 278.82,355.1 283.44,352.4 288.05,361.3 292.67,363.4 297.29,363.4 301.9,362.5 306.52,376.7 311.14,369.3 315.75,384.2 320.37,399.4 324.99,391.6 329.6,371.4 334.22,360.8 338.84,335.8 343.45,335.0 348.07,356.2 352.69,357.0 357.3,354.5 361.92,357.7 366.54,360.8 371.15,351.9 375.77,349.8 380.39,347.0 385.0,342.8 389.62,339.7 394.24,338.6 398.85,336.5 403.47,333.7 408.09,331.2 412.7,330.1 417.32,346.4 421.94,343.9 426.55,340.1 431.17,338.2 435.79,337.1 440.4,343.9 445.02,348.6 449.64,343.3 454.25,342.2 458.87,339.7 463.49,341.4 468.1,337.5 472.72,337.5 477.34,344.0 481.95,340.4 486.57,345.4 491.19,358.2 495.8,383.6 500.42,409.6 505.04,411.6 509.65,415.4 514.27,421.8 518.89,423.1 523.5,429.9 528.12,429.9 532.74,414.7 537.35,414.7 541.97,405.8 546.59,405.2 551.2,409.6 555.82,412.1 560.44,409.6 565.05,400.9 569.67,383.3" fill="none" stroke="#8f3e96" stroke-width="1.2" stroke-linejoin="round" stroke-linecap="round"/></g>
<line x1="0" y1="442.6" x2="800" y2="442.6" stroke="#6a6d78" stroke-width="1.2"/>
<line x1="24.6" y1="442.6" x2="24.6" y2="445.8" stroke="#6a6d78" stroke-width="1"/>
<text x="18.150000000000002" y="462.5" font-size="12" fill="#50535e" stroke="#50535e" stroke-width="0.25" text-anchor="start" textLength="12.9" lengthAdjust="spacingAndGlyphs">Aug</text>
<line x1="121.5" y1="442.6" x2="121.5" y2="445.8" stroke="#6a6d78" stroke-width="1"/>
<text x="115.25" y="462.5" font-size="12" fill="#50535e" stroke="#50535e" stroke-width="0.25" text-anchor="start" textLength="12.5" lengthAdjust="spacingAndGlyphs">Sep</text>
<line x1="218.6" y1="442.6" x2="218.6" y2="445.8" stroke="#6a6d78" stroke-width="1"/>
<text x="212.85" y="462.5" font-size="12" fill="#50535e" stroke="#50535e" stroke-width="0.25" text-anchor="start" textLength="11.5" lengthAdjust="spacingAndGlyphs">Oct</text>
<line x1="320.4" y1="442.6" x2="320.4" y2="445.8" stroke="#6a6d78" stroke-width="1"/>
<text x="313.9" y="462.5" font-size="12" fill="#50535e" stroke="#50535e" stroke-width="0.25" text-anchor="start" textLength="13" lengthAdjust="spacingAndGlyphs">Nov</text>
<line x1="412.6" y1="442.6" x2="412.6" y2="445.8" stroke="#6a6d78" stroke-width="1"/>
<text x="406.1" y="462.5" font-size="12" fill="#50535e" stroke="#50535e" stroke-width="0.25" text-anchor="start" textLength="13" lengthAdjust="spacingAndGlyphs">Dec</text>
<line x1="514.4" y1="442.6" x2="514.4" y2="445.8" stroke="#6a6d78" stroke-width="1"/>
<text x="505.4" y="462.5" font-size="12" fill="#50535e" stroke="#50535e" stroke-width="0.1" text-anchor="start" font-weight="bold" textLength="18" lengthAdjust="spacingAndGlyphs">2021</text>
<line x1="602.2" y1="442.6" x2="602.2" y2="445.8" stroke="#6a6d78" stroke-width="1"/>
<text x="596.2" y="462.5" font-size="12" fill="#50535e" stroke="#50535e" stroke-width="0.25" text-anchor="start" textLength="12" lengthAdjust="spacingAndGlyphs">Feb</text>
<line x1="689.6" y1="442.6" x2="689.6" y2="445.8" stroke="#6a6d78" stroke-width="1"/>
<text x="683.35" y="462.5" font-size="12" fill="#50535e" stroke="#50535e" stroke-width="0.25" text-anchor="start" textLength="12.5" lengthAdjust="spacingAndGlyphs">Mar</text>
<line x1="754" y1="0" x2="754" y2="472" stroke="#a3a6af" stroke-width="1.2"/>
<line x1="754" y1="16.5" x2="757" y2="16.5" stroke="#6a6d78" stroke-width="1"/>
<text x="759.8" y="21.1" font-size="12.6" fill="#50535e" stroke="#50535e" stroke-width="0.25" text-anchor="start" textLength="28.5" lengthAdjust="spacingAndGlyphs">1000.00</text>
<line x1="754" y1="51.6" x2="757" y2="51.6" stroke="#6a6d78" stroke-width="1"/>
<text x="759.8" y="56.2" font-size="12.6" fill="#50535e" stroke="#50535e" stroke-width="0.25" text-anchor="start" textLength="24.5" lengthAdjust="spacingAndGlyphs">950.00</text>
<line x1="754" y1="86.9" x2="757" y2="86.9" stroke="#6a6d78" stroke-width="1"/>
<text x="759.8" y="91.5" font-size="12.6" fill="#50535e" stroke="#50535e" stroke-width="0.25" text-anchor="start" textLength="24.5" lengthAdjust="spacingAndGlyphs">900.00</text>
<line x1="754" y1="122.3" x2="757" y2="122.3" stroke="#6a6d78" stroke-width="1"/>
<text x="759.8" y="126.89999999999999" font-size="12.6" fill="#50535e" stroke="#50535e" stroke-width="0.25" text-anchor="start" textLength="24.5" lengthAdjust="spacingAndGlyphs">850.00</text>
<line x1="754" y1="264.6" x2="757" y2="264.6" stroke="#6a6d78" stroke-width="1"/>
<text x="759.8" y="269.20000000000005" font-size="12.6" fill="#50535e" stroke="#50535e" stroke-width="0.25" text-anchor="start" textLength="24.5" lengthAdjust="spacingAndGlyphs">650.00</text>
<line x1="754" y1="331" x2="757" y2="331" stroke="#6a6d78" stroke-width="1"/>
<text x="759.8" y="335.6" font-size="12.6" fill="#50535e" stroke="#50535e" stroke-width="0.25" text-anchor="start" textLength="20.5" lengthAdjust="spacingAndGlyphs">80.00</text>
<line x1="754" y1="369.7" x2="757" y2="369.7" stroke="#6a6d78" stroke-width="1"/>
<text x="759.8" y="374.3" font-size="12.6" fill="#50535e" stroke="#50535e" stroke-width="0.25" text-anchor="start" textLength="20.5" lengthAdjust="spacingAndGlyphs">60.00</text>
<line x1="754" y1="410" x2="757" y2="410" stroke="#6a6d78" stroke-width="1"/>
<text x="759.8" y="414.6" font-size="12.6" fill="#50535e" stroke="#50535e" stroke-width="0.25" text-anchor="start" textLength="20.5" lengthAdjust="spacingAndGlyphs">40.00</text>
<rect x="766.6" y="6.4" width="20.3" height="20" rx="4" fill="#ffffff" stroke="#e0e3eb" stroke-width="1"/>
<text x="769.7" y="20" font-size="11" fill="#50535e" stroke="#50535e" stroke-width="0.25" text-anchor="start" textLength="13.8" lengthAdjust="spacingAndGlyphs">USD</text>
<rect x="754" y="28.3" width="35.6" height="18.2" fill="#0000ff"/><text x="759.55" y="42.0" font-size="12.6" fill="#ffffff" stroke="#ffffff" stroke-width="0.25" text-anchor="start" textLength="24.5" lengthAdjust="spacingAndGlyphs">970.00</text>
<rect x="677.4" y="120" width="75.8" height="18.2" fill="#ff0000"/><text x="681.8" y="133.7" font-size="12.6" fill="#ffffff" stroke="#ffffff" stroke-width="0.25" text-anchor="start" textLength="67" lengthAdjust="spacingAndGlyphs">SMA by KGS:SMA-3</text>
<rect x="754" y="120" width="35.6" height="18.2" fill="#ff0000"/><text x="759.55" y="133.7" font-size="12.6" fill="#ffffff" stroke="#ffffff" stroke-width="0.25" text-anchor="start" textLength="24.5" lengthAdjust="spacingAndGlyphs">840.47</text>
<rect x="754" y="138.2" width="35.6" height="19.3" fill="#ef5350"/><text x="759.55" y="152.45" font-size="12.6" fill="#ffffff" stroke="#ffffff" stroke-width="0.25" text-anchor="start" textLength="24.5" lengthAdjust="spacingAndGlyphs">835.12</text>
<rect x="754" y="157.5" width="35.6" height="18.3" fill="#26a69a"/><text x="759.55" y="171.25" font-size="12.6" fill="#ffffff" stroke="#ffffff" stroke-width="0.25" text-anchor="start" textLength="24.5" lengthAdjust="spacingAndGlyphs">831.58</text>
<rect x="754" y="176.6" width="40.5" height="18.6" fill="#26a69a"/><text x="756.8" y="190.49999999999997" font-size="12.6" fill="#ffffff" stroke="#ffffff" stroke-width="0.25" text-anchor="start" textLength="31.5" lengthAdjust="spacingAndGlyphs">04:44:01</text>
<rect x="677.4" y="195.8" width="75.8" height="18.1" fill="#008000"/><text x="681.8" y="209.45000000000002" font-size="12.6" fill="#ffffff" stroke="#ffffff" stroke-width="0.25" text-anchor="start" textLength="67" lengthAdjust="spacingAndGlyphs">SMA by KGS:SMA-2</text>
<rect x="754" y="195.8" width="35.6" height="18.1" fill="#008000"/><text x="759.55" y="209.45000000000002" font-size="12.6" fill="#ffffff" stroke="#ffffff" stroke-width="0.25" text-anchor="start" textLength="24.5" lengthAdjust="spacingAndGlyphs">819.74</text>
<rect x="754" y="219.7" width="35.6" height="18.0" fill="#0000ff"/><text x="759.55" y="233.29999999999998" font-size="12.6" fill="#ffffff" stroke="#ffffff" stroke-width="0.25" text-anchor="start" textLength="24.5" lengthAdjust="spacingAndGlyphs">700.00</text>
<rect x="717" y="290" width="36.2" height="15.6" fill="#26a69a"/><text x="721.6" y="302.40000000000003" font-size="12.6" fill="#ffffff" stroke="#ffffff" stroke-width="0.25" text-anchor="start" textLength="27" lengthAdjust="spacingAndGlyphs">Volume</text>
<rect x="754" y="290" width="46.0" height="15.6" fill="#26a69a"/><text x="760.3" y="302.40000000000003" font-size="12.6" fill="#ffffff" stroke="#ffffff" stroke-width="0.25" text-anchor="start" textLength="33" lengthAdjust="spacingAndGlyphs">341.555K</text>
<rect x="733" y="373.7" width="20.2" height="18.0" fill="#8f169f"/><text x="737.1" y="387.3" font-size="12.6" fill="#ffffff" stroke="#ffffff" stroke-width="0.25" text-anchor="start" textLength="12" lengthAdjust="spacingAndGlyphs">RSI</text>
<rect x="754" y="373.7" width="31.4" height="18.0" fill="#8f169f"/><text x="759.95" y="387.3" font-size="12.6" fill="#ffffff" stroke="#ffffff" stroke-width="0.25" text-anchor="start" textLength="19.5" lengthAdjust="spacingAndGlyphs">53.29</text>
<line x1="754" y1="37.4" x2="757" y2="37.4" stroke="#ffffff" stroke-width="1"/>
<line x1="754" y1="129.1" x2="757" y2="129.1" stroke="#ffffff" stroke-width="1"/>
<line x1="754" y1="147.8" x2="757" y2="147.8" stroke="#ffffff" stroke-width="1"/>
<line x1="754" y1="166.6" x2="757" y2="166.6" stroke="#ffffff" stroke-width="1"/>
<line x1="754" y1="204.8" x2="757" y2="204.8" stroke="#ffffff" stroke-width="1"/>
<line x1="754" y1="228.7" x2="757" y2="228.7" stroke="#ffffff" stroke-width="1"/>
<line x1="754" y1="297.8" x2="757" y2="297.8" stroke="#ffffff" stroke-width="1"/>
<line x1="754" y1="382.7" x2="757" y2="382.7" stroke="#ffffff" stroke-width="1"/>
</svg></body></html>
